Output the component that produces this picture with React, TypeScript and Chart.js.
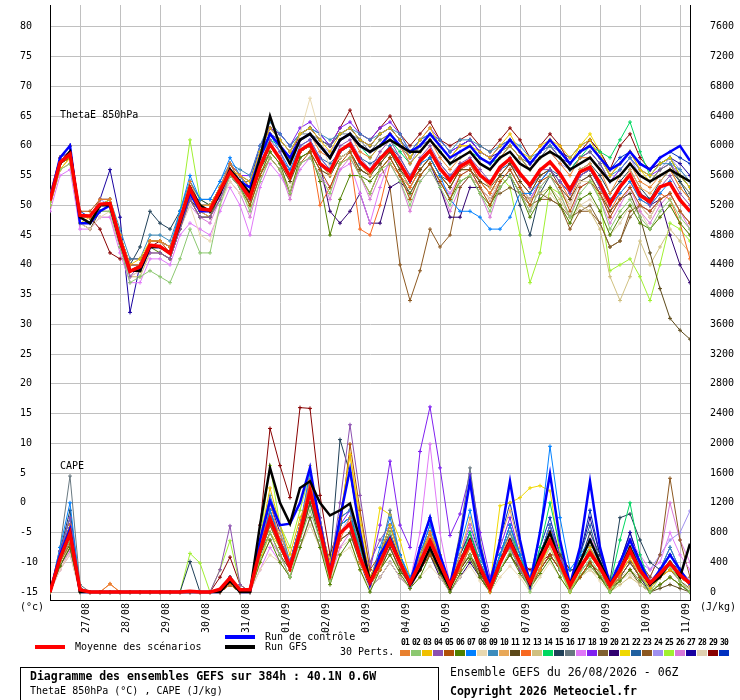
import React, { useEffect, useRef } from 'react'
import { Chart, registerables } from 'chart.js'

Chart.register(...registerables)

const FONT = "'DejaVu Sans Mono', monospace"

// 6-hourly steps from 26/08 06Z to 11/09 06Z (384h)
const hours = Array.from({ length: 65 }, (_, i) => i * 6)
const dayLabels = ['27/08', '28/08', '29/08', '30/08', '31/08', '01/09', '02/09', '03/09', '04/09', '05/09', '06/09', '07/09', '08/09', '09/09', '10/09', '11/09']
const thetaTicks = [-15, -10, -5, 0, 5, 10, 15, 20, 25, 30, 35, 40, 45, 50, 55, 60, 65, 70, 75, 80]
const capeTicks = [0, 400, 800, 1200, 1600, 2000, 2400, 2800, 3200, 3600, 4000, 4400, 4800, 5200, 5600, 6000, 6400, 6800, 7200, 7600]

const pertColors = [
  '#e8802f', '#8cc870', '#f0c000', '#8c50b0', '#b05008', '#508000', '#0080ff', '#e8d8b0', '#3c8cbc', '#e8a858',
  '#5c4818', '#f86820', '#d0c080', '#00d860', '#204058', '#687880', '#e078f8', '#8020f0', '#806030', '#300070',
  '#f0d800', '#2060a0', '#8c5820', '#a090f0', '#a0f030', '#d878d8', '#1800a0', '#e0d0b0', '#880000', '#0030c0',
]
const pertNames = pertColors.map((_, i) => String(i + 1).padStart(2, '0'))

// ThetaE 850hPa (°C)
const thetaMean = [50.8, 57.2, 58.6, 48.3, 48.2, 50.2, 50.3, 44.2, 38.9, 39.7, 43.3, 43.1, 41.9, 47.5, 52.8, 49.4, 49.2, 52.5, 55.6, 53.6, 51.3, 56.5, 60.3, 57.8, 54.8, 59.2, 60.3, 57.0, 55.7, 59.2, 60.3, 57.3, 55.7, 57.8, 59.5, 57.0, 54.2, 57.5, 59.2, 56.2, 54.2, 56.5, 57.5, 55.1, 53.7, 56.4, 57.8, 55.3, 53.4, 55.9, 57.3, 55.3, 52.6, 55.6, 56.4, 53.7, 50.3, 53.1, 55.1, 51.7, 50.6, 53.1, 53.7, 50.9, 49.0]
const thetaCtrl = [51, 58, 60, 47, 47, 49, 50, 44, 39, 39, 43, 43, 42, 47, 52, 49, 49, 52, 56, 54, 53, 58, 62, 60, 58, 61, 62, 60, 58, 61, 62, 60, 59, 60, 62, 60, 59, 60, 62, 60, 58, 59, 60, 58, 57, 59, 61, 59, 57, 59, 61, 59, 57, 59, 60, 58, 56, 57, 59, 57, 56, 58, 59, 60, 57.5]
const thetaGfs = [51, 57, 59, 48, 47, 50, 50, 44, 39, 39, 43, 43, 42, 47, 53, 50, 49, 52, 56, 54, 52, 58, 65, 60, 57, 61, 62, 60, 58, 61, 62, 60, 59, 60, 61, 60, 59, 59, 61, 59, 57, 58, 59, 57, 56, 58, 59, 57, 56, 58, 59, 58, 56, 57, 58, 56, 54, 55, 57, 55, 54, 55, 56, 55, 54]
const thetaPerts = [
  [51, 58, 60, 48, 48, 51, 51, 45, 40, 40, 44, 44, 43, 48, 54, 50, 50, 53, 57, 55, 53, 58, 62, 60, 57, 61, 62, 59, 58, 61, 62, 59, 58, 60, 62, 60, 57, 59, 61, 58, 56, 58, 59, 57, 56, 58, 60, 58, 56, 58, 59, 57, 55, 58, 58, 56, 52, 55, 57, 54, 53, 55, 56, 53, 51],
  [50, 56, 57, 47, 47, 49, 49, 43, 37, 38, 39, 38, 37, 41, 46, 42, 42, 50, 55, 53, 49, 54, 58, 56, 52, 57, 58, 55, 52, 57, 58, 55, 52, 56, 57, 54, 50, 54, 56, 53, 50, 54, 55, 52, 49, 53, 55, 52, 49, 53, 55, 52, 48, 52, 54, 51, 46, 49, 51, 48, 46, 49, 51, 48, 46],
  [50, 56, 58, 47, 48, 50, 51, 45, 40, 41, 44, 44, 43, 47, 52, 50, 50, 53, 56, 55, 54, 59, 63, 61, 59, 62, 63, 61, 59, 62, 63, 61, 60, 62, 63, 61, 58, 61, 63, 60, 58, 60, 60, 59, 58, 60, 62, 59, 58, 60, 61, 60, 58, 60, 61, 58, 55, 57, 59, 56, 55, 57, 58, 55, 53],
  [52, 58, 59, 48, 48, 50, 50, 43, 38, 40, 42, 42, 41, 46, 51, 48, 48, 51, 55, 53, 51, 57, 61, 59, 55, 60, 61, 58, 56, 60, 61, 58, 56, 59, 61, 58, 55, 58, 60, 57, 55, 57, 58, 56, 54, 56, 58, 55, 53, 56, 56, 54, 52, 55, 56, 53, 50, 53, 55, 52, 50, 53, 55, 52, 50],
  [51, 57, 58, 49, 49, 51, 51, 45, 40, 40, 44, 44, 42, 48, 53, 50, 49, 52, 57, 54, 50, 55, 58, 56, 52, 57, 59, 56, 53, 57, 59, 55, 52, 56, 58, 55, 51, 55, 57, 54, 51, 55, 56, 53, 50, 54, 56, 53, 50, 54, 55, 53, 49, 53, 54, 52, 48, 51, 53, 50, 49, 51, 52, 49, 47],
  [50, 57, 58, 48, 48, 50, 50, 44, 39, 39, 43, 42, 41, 46, 51, 48, 48, 52, 55, 53, 50, 55, 59, 57, 52, 58, 59, 54, 45, 51, 55, 55, 54, 56, 58, 55, 52, 55, 57, 54, 51, 54, 55, 52, 50, 53, 55, 52, 48, 51, 53, 50, 47, 51, 52, 49, 45, 48, 50, 47, 46, 48, 50, 47, 45],
  [51, 58, 60, 48, 48, 50, 51, 45, 40, 40, 44, 44, 43, 49, 55, 51, 51, 54, 58, 55, 52, 58, 62, 59, 56, 60, 61, 58, 56, 59, 60, 57, 56, 58, 60, 57, 54, 57, 58, 55, 51, 49, 49, 48, 46, 46, 48, 52, 52, 54, 56, 54, 52, 55, 56, 53, 50, 52, 54, 51, 50, 52, 54, 51, 49],
  [50, 56, 57, 47, 46, 48, 49, 43, 38, 39, 42, 42, 41, 46, 50, 45, 44, 50, 54, 52, 50, 55, 59, 57, 55, 62, 68, 62, 56, 58, 59, 55, 52, 56, 58, 55, 51, 55, 57, 54, 51, 55, 55, 53, 51, 54, 56, 53, 50, 54, 55, 53, 50, 54, 54, 52, 48, 51, 53, 50, 48, 51, 52, 49, 47],
  [51, 58, 59, 48, 48, 51, 51, 46, 41, 41, 45, 45, 44, 49, 54, 51, 51, 54, 57, 56, 55, 60, 64, 62, 60, 62, 63, 62, 61, 62, 63, 62, 61, 62, 63, 62, 59, 61, 62, 61, 59, 61, 61, 60, 59, 60, 61, 60, 58, 59, 60, 59, 57, 59, 60, 58, 55, 56, 58, 56, 55, 57, 57, 56, 54],
  [50, 57, 58, 48, 48, 50, 50, 44, 39, 39, 43, 43, 42, 47, 52, 49, 48, 52, 55, 53, 51, 56, 60, 58, 55, 59, 60, 57, 55, 59, 60, 57, 55, 58, 60, 57, 54, 57, 59, 56, 54, 57, 57, 55, 53, 56, 58, 55, 53, 56, 57, 55, 52, 56, 57, 54, 50, 53, 56, 53, 52, 54, 56, 53, 51],
  [51, 57, 58, 47, 46, 49, 50, 44, 39, 39, 43, 43, 42, 47, 51, 49, 48, 52, 55, 53, 51, 56, 59, 57, 54, 58, 59, 56, 55, 58, 59, 56, 55, 57, 59, 56, 54, 56, 58, 55, 53, 56, 56, 54, 53, 55, 57, 54, 52, 55, 56, 53, 51, 54, 55, 52, 49, 51, 52, 48, 42, 36, 31, 29, 27.5],
  [51, 58, 59, 48, 48, 50, 50, 44, 39, 40, 43, 43, 42, 47, 52, 49, 49, 52, 56, 54, 51, 56, 60, 58, 55, 59, 60, 50, 53, 57, 58, 46, 45, 50, 57, 55, 53, 56, 58, 55, 53, 56, 57, 54, 52, 55, 57, 54, 52, 55, 56, 54, 51, 55, 56, 53, 49, 52, 54, 51, 50, 52, 51, 47, 41],
  [50, 56, 58, 47, 47, 49, 49, 43, 38, 38, 42, 42, 41, 46, 51, 48, 48, 51, 55, 53, 50, 55, 59, 57, 54, 58, 59, 56, 55, 58, 59, 56, 55, 57, 59, 56, 53, 56, 58, 55, 53, 56, 56, 54, 52, 54, 56, 53, 51, 52, 53, 51, 48, 50, 49, 46, 38, 34, 38, 44, 40, 43, 46, 44, 42],
  [51, 57, 59, 48, 48, 50, 50, 44, 39, 39, 43, 43, 42, 48, 53, 50, 50, 53, 56, 54, 53, 58, 61, 60, 58, 61, 62, 60, 58, 61, 62, 60, 58, 60, 61, 59, 57, 59, 61, 59, 57, 58, 59, 58, 57, 58, 60, 58, 56, 58, 59, 58, 56, 58, 60, 59, 58, 61, 64, 59, 55, 57, 58, 55, 53],
  [51, 57, 59, 48, 48, 50, 50, 44, 40, 43, 49, 47, 46, 49, 54, 51, 50, 53, 56, 54, 51, 56, 60, 58, 55, 59, 60, 57, 55, 58, 59, 56, 55, 57, 59, 56, 53, 56, 58, 55, 54, 57, 57, 54, 52, 55, 55, 50, 45, 52, 55, 55, 53, 56, 57, 55, 52, 54, 56, 53, 51, 54, 56, 54, 51],
  [52, 58, 60, 48, 48, 50, 50, 44, 39, 39, 43, 43, 42, 47, 52, 49, 49, 52, 56, 54, 54, 59, 62, 61, 59, 62, 62, 61, 60, 62, 62, 61, 59, 61, 62, 60, 58, 60, 61, 59, 57, 59, 60, 58, 57, 59, 60, 58, 57, 58, 60, 58, 56, 58, 59, 57, 54, 55, 57, 55, 54, 56, 57, 54, 52],
  [49, 55, 56, 46, 46, 48, 48, 42, 37, 37, 41, 41, 40, 45, 47, 46, 45, 49, 53, 50, 45, 53, 57, 55, 52, 56, 58, 55, 53, 56, 57, 52, 47, 53, 58, 55, 52, 55, 57, 54, 52, 55, 56, 53, 51, 54, 56, 53, 51, 54, 55, 53, 50, 54, 55, 52, 48, 51, 53, 50, 49, 51, 52, 49, 47],
  [51, 58, 60, 48, 48, 51, 51, 45, 40, 40, 44, 44, 43, 48, 53, 50, 50, 53, 57, 55, 55, 60, 63, 62, 60, 63, 64, 62, 60, 63, 64, 62, 61, 63, 64, 62, 59, 61, 63, 61, 59, 60, 61, 59, 58, 60, 61, 59, 57, 59, 60, 58, 56, 58, 59, 57, 54, 56, 58, 56, 55, 56, 57, 55, 53],
  [50, 57, 58, 48, 48, 50, 50, 44, 39, 39, 43, 43, 42, 47, 52, 49, 49, 52, 56, 54, 51, 56, 60, 58, 55, 59, 60, 57, 56, 59, 60, 57, 55, 58, 60, 57, 54, 57, 59, 56, 54, 56, 56, 53, 51, 52, 53, 52, 51, 52, 51, 50, 48, 49, 50, 47, 43, 44, 48, 50, 49, 51, 52, 49, 47],
  [51, 57, 59, 48, 48, 50, 50, 44, 39, 39, 43, 43, 42, 47, 52, 49, 49, 52, 56, 54, 51, 56, 60, 58, 55, 59, 60, 57, 49, 47, 49, 52, 47, 47, 53, 54, 52, 55, 57, 53, 48, 48, 53, 53, 51, 54, 56, 53, 51, 54, 56, 54, 52, 55, 56, 53, 50, 53, 55, 52, 50, 51, 45, 40, 37],
  [50, 56, 58, 48, 48, 50, 50, 44, 39, 40, 44, 44, 43, 47, 53, 50, 49, 53, 57, 55, 53, 58, 62, 60, 58, 61, 62, 60, 58, 61, 62, 60, 59, 61, 62, 60, 58, 60, 62, 60, 58, 60, 60, 58, 57, 59, 60, 58, 57, 59, 61, 59, 57, 60, 62, 59, 55, 57, 59, 56, 54, 56, 57, 54, 52],
  [51, 57, 59, 47, 47, 49, 50, 44, 39, 39, 42, 42, 41, 46, 51, 48, 48, 51, 55, 53, 51, 56, 60, 58, 56, 59, 60, 58, 57, 59, 60, 58, 57, 58, 60, 58, 55, 57, 59, 57, 55, 56, 57, 55, 54, 56, 57, 55, 53, 55, 56, 55, 53, 55, 56, 54, 51, 53, 55, 52, 51, 53, 54, 51, 49],
  [50, 57, 58, 48, 48, 50, 50, 44, 39, 39, 43, 43, 42, 47, 52, 49, 49, 52, 56, 54, 51, 56, 60, 58, 55, 59, 60, 57, 55, 58, 59, 56, 55, 57, 53, 40, 34, 39, 46, 43, 45, 53, 55, 53, 51, 53, 55, 52, 50, 51, 51, 50, 46, 49, 49, 47, 43, 44, 49, 50, 48, 51, 52, 49, 47],
  [51, 58, 59, 48, 48, 51, 50, 44, 39, 39, 42, 42, 41, 47, 52, 49, 49, 52, 56, 54, 53, 59, 62, 61, 59, 61, 62, 60, 59, 61, 62, 60, 59, 60, 62, 60, 57, 60, 61, 59, 57, 59, 60, 58, 57, 58, 60, 58, 56, 58, 59, 57, 56, 58, 59, 57, 54, 56, 58, 55, 54, 56, 58, 56, 54],
  [51, 57, 58, 48, 48, 50, 50, 44, 39, 40, 43, 43, 42, 49, 61, 51, 50, 53, 56, 54, 51, 56, 60, 58, 55, 59, 60, 57, 55, 58, 59, 56, 55, 57, 59, 56, 53, 56, 58, 55, 53, 56, 56, 54, 52, 55, 53, 45, 37, 42, 53, 52, 50, 54, 55, 51, 39, 40, 41, 38, 34, 40, 47, 46, 44],
  [50, 56, 57, 47, 47, 49, 49, 43, 38, 39, 42, 42, 41, 46, 50, 48, 47, 51, 54, 52, 48, 54, 58, 56, 51, 57, 58, 55, 51, 56, 58, 55, 51, 55, 57, 54, 49, 54, 56, 53, 49, 53, 55, 52, 48, 53, 55, 52, 49, 53, 55, 52, 48, 53, 54, 51, 47, 50, 53, 49, 47, 50, 52, 49, 46],
  [51, 58, 60, 48, 48, 51, 56, 48, 32, 40, 44, 44, 43, 47, 52, 49, 49, 52, 56, 54, 54, 59, 63, 61, 59, 62, 63, 61, 60, 62, 63, 61, 60, 62, 63, 61, 58, 60, 62, 60, 58, 60, 61, 59, 58, 59, 61, 59, 57, 59, 60, 58, 57, 59, 60, 58, 55, 57, 59, 57, 56, 57, 58, 57, 55],
  [50, 56, 57, 47, 46, 48, 48, 43, 38, 38, 42, 42, 41, 46, 51, 48, 48, 51, 55, 53, 49, 54, 58, 56, 53, 57, 58, 55, 52, 57, 58, 55, 52, 56, 58, 55, 51, 55, 57, 54, 52, 54, 55, 53, 50, 53, 55, 52, 49, 51, 52, 50, 47, 50, 51, 49, 45, 47, 50, 49, 46, 48, 50, 47, 45],
  [51, 58, 59, 48, 48, 46, 42, 41, 41, 41, 43, 44, 43, 48, 53, 50, 50, 53, 57, 55, 53, 58, 62, 60, 58, 62, 63, 61, 60, 63, 66, 62, 61, 63, 65, 62, 60, 62, 64, 61, 60, 61, 62, 60, 59, 61, 63, 61, 58, 60, 62, 60, 57, 59, 61, 59, 56, 60, 62, 58, 56, 57, 58, 55, 53],
  [51, 58, 60, 49, 48, 50, 51, 45, 40, 40, 44, 44, 43, 48, 53, 50, 50, 53, 57, 55, 54, 60, 63, 62, 60, 62, 63, 62, 60, 62, 63, 61, 60, 62, 63, 61, 59, 61, 62, 61, 59, 60, 61, 59, 58, 60, 61, 59, 57, 59, 61, 59, 58, 60, 61, 59, 56, 58, 59, 57, 56, 58, 59, 58, 57],
]

// CAPE (J/kg)
const capeMean = [0, 450, 790, 30, 0, 0, 0, 0, 0, 0, 0, 0, 0, 0, 10, 0, 0, 40, 190, 30, 30, 560, 990, 650, 330, 790, 1360, 830, 250, 790, 920, 470, 130, 390, 690, 390, 120, 390, 690, 390, 90, 390, 670, 330, 50, 390, 670, 390, 130, 430, 690, 390, 90, 330, 530, 330, 90, 290, 560, 290, 120, 250, 390, 230, 120]
const capeCtrl = [0, 500, 850, 0, 0, 0, 0, 0, 0, 0, 0, 0, 0, 0, 0, 0, 0, 0, 200, 0, 0, 700, 1230, 900, 920, 1200, 1670, 900, 270, 1000, 1650, 800, 100, 500, 730, 400, 100, 600, 1000, 500, 100, 700, 1490, 600, 100, 700, 1490, 700, 100, 800, 1590, 700, 100, 600, 1490, 600, 100, 400, 700, 400, 100, 300, 500, 300, 100]
const capeGfs = [0, 450, 800, 0, 0, 0, 0, 0, 0, 0, 0, 0, 0, 0, 0, 0, 0, 0, 150, 0, 0, 900, 1670, 1200, 920, 1400, 1490, 1200, 1030, 1100, 1190, 700, 150, 400, 700, 400, 100, 300, 600, 300, 50, 400, 700, 300, 50, 400, 700, 400, 100, 500, 800, 400, 100, 400, 700, 400, 100, 300, 600, 300, 100, 200, 400, 200, 650]
const capePerts = [
  [0, 500, 900, 50, 0, 0, 110, 0, 0, 0, 0, 0, 0, 0, 0, 0, 0, 0, 100, 0, 0, 600, 1200, 700, 300, 900, 1500, 800, 200, 700, 1000, 400, 100, 300, 700, 400, 100, 400, 800, 400, 50, 300, 600, 300, 0, 400, 700, 400, 100, 300, 800, 400, 50, 300, 500, 300, 50, 200, 600, 300, 100, 200, 400, 200, 100],
  [0, 400, 700, 0, 0, 0, 0, 0, 0, 0, 0, 0, 0, 0, 0, 0, 0, 0, 150, 0, 0, 450, 800, 500, 200, 700, 1100, 700, 150, 800, 900, 500, 100, 450, 800, 350, 80, 350, 600, 300, 50, 350, 500, 300, 0, 300, 550, 350, 0, 400, 700, 300, 0, 250, 450, 250, 0, 300, 500, 250, 0, 200, 350, 150, 0],
  [0, 450, 750, 0, 0, 0, 0, 0, 0, 0, 0, 0, 0, 0, 0, 0, 0, 0, 200, 0, 0, 700, 1400, 900, 500, 1000, 1300, 900, 400, 1000, 1850, 900, 200, 500, 900, 450, 150, 500, 800, 500, 100, 400, 600, 300, 0, 400, 650, 400, 100, 300, 700, 350, 0, 300, 600, 350, 50, 250, 450, 250, 50, 200, 300, 200, 100],
  [0, 550, 1000, 50, 0, 0, 0, 0, 0, 0, 0, 0, 0, 0, 0, 0, 0, 300, 890, 100, 0, 700, 1000, 700, 400, 900, 1500, 1000, 300, 1200, 2250, 1300, 400, 700, 900, 450, 150, 450, 800, 450, 100, 400, 700, 350, 100, 400, 600, 300, 50, 400, 700, 300, 50, 300, 600, 350, 100, 350, 700, 400, 150, 300, 500, 300, 150],
  [0, 400, 650, 0, 0, 0, 0, 0, 0, 0, 0, 0, 0, 0, 0, 0, 0, 0, 100, 0, 0, 500, 900, 600, 300, 800, 1300, 800, 200, 800, 1990, 1100, 300, 500, 800, 400, 100, 300, 500, 300, 50, 300, 600, 300, 50, 400, 600, 300, 50, 300, 500, 300, 50, 200, 400, 250, 50, 250, 450, 200, 100, 200, 300, 200, 100],
  [0, 350, 600, 0, 0, 0, 0, 0, 0, 0, 0, 0, 0, 0, 0, 0, 0, 0, 100, 0, 0, 400, 700, 400, 200, 600, 1000, 600, 100, 500, 700, 300, 0, 300, 500, 250, 50, 200, 500, 250, 0, 250, 450, 200, 0, 300, 500, 250, 50, 250, 450, 200, 0, 200, 350, 200, 0, 150, 300, 150, 0, 100, 200, 100, 0],
  [0, 600, 1200, 50, 0, 0, 0, 0, 0, 0, 0, 0, 0, 0, 0, 0, 0, 0, 200, 0, 0, 600, 1100, 700, 400, 900, 1600, 900, 300, 900, 1000, 500, 150, 600, 1000, 500, 200, 500, 900, 400, 100, 600, 1100, 500, 100, 500, 900, 500, 200, 800, 1960, 1000, 300, 500, 700, 400, 100, 300, 600, 300, 100, 300, 500, 300, 100],
  [0, 300, 500, 0, 0, 0, 0, 0, 0, 0, 0, 0, 0, 0, 0, 0, 0, 0, 100, 0, 0, 300, 500, 400, 200, 600, 900, 600, 150, 500, 600, 300, 50, 200, 400, 200, 50, 200, 350, 200, 0, 200, 350, 150, 0, 200, 350, 200, 0, 200, 400, 200, 0, 200, 300, 150, 0, 150, 250, 100, 0, 100, 200, 100, 0],
  [0, 500, 1000, 50, 0, 0, 0, 0, 0, 0, 0, 0, 0, 0, 0, 0, 0, 0, 150, 0, 0, 700, 1300, 900, 400, 900, 1500, 1000, 300, 1000, 1100, 600, 150, 500, 900, 500, 150, 600, 1000, 500, 100, 400, 700, 400, 50, 500, 800, 400, 100, 500, 900, 400, 100, 400, 700, 350, 100, 300, 700, 350, 100, 300, 600, 300, 100],
  [0, 450, 850, 0, 0, 0, 0, 0, 0, 0, 0, 0, 0, 0, 0, 0, 0, 0, 150, 0, 0, 600, 1000, 800, 400, 800, 1400, 900, 200, 800, 900, 400, 100, 400, 700, 400, 100, 400, 700, 400, 100, 500, 1000, 500, 100, 700, 1100, 600, 150, 400, 800, 400, 100, 300, 500, 300, 100, 300, 600, 300, 100, 300, 400, 200, 100],
  [0, 350, 600, 0, 0, 0, 0, 0, 0, 0, 0, 0, 0, 0, 0, 0, 0, 0, 100, 0, 0, 500, 800, 500, 300, 700, 1200, 700, 200, 700, 800, 400, 100, 300, 600, 300, 100, 300, 550, 300, 50, 300, 500, 250, 0, 300, 500, 300, 100, 400, 700, 500, 300, 300, 400, 200, 50, 150, 300, 100, 0, 50, 100, 50, 0],
  [0, 500, 900, 50, 0, 0, 110, 0, 0, 0, 0, 0, 0, 0, 0, 0, 0, 0, 150, 0, 0, 600, 1000, 700, 300, 900, 1400, 800, 200, 800, 900, 400, 100, 400, 700, 400, 100, 400, 800, 400, 100, 400, 700, 300, 50, 400, 800, 400, 100, 400, 700, 400, 100, 300, 500, 300, 50, 300, 500, 300, 100, 300, 400, 200, 100],
  [0, 350, 650, 0, 0, 0, 0, 0, 0, 0, 0, 0, 0, 0, 0, 0, 0, 0, 100, 0, 0, 500, 900, 600, 300, 700, 1700, 800, 200, 700, 800, 400, 100, 300, 600, 300, 100, 400, 700, 400, 50, 300, 600, 300, 50, 300, 500, 300, 100, 300, 600, 300, 50, 200, 300, 200, 0, 100, 200, 100, 0, 100, 200, 100, 50],
  [0, 500, 800, 0, 0, 0, 0, 0, 0, 0, 0, 0, 0, 0, 0, 0, 0, 0, 150, 0, 0, 500, 900, 600, 300, 800, 1200, 800, 250, 900, 1000, 600, 150, 400, 800, 400, 100, 400, 700, 400, 100, 400, 800, 400, 50, 500, 800, 500, 100, 600, 1200, 600, 100, 400, 600, 300, 100, 700, 1200, 500, 100, 200, 400, 200, 100],
  [0, 550, 1100, 50, 0, 0, 0, 0, 0, 0, 0, 0, 0, 0, 410, 0, 0, 0, 200, 0, 0, 600, 1000, 700, 400, 900, 1300, 900, 400, 2050, 1600, 800, 200, 500, 900, 500, 150, 500, 800, 400, 100, 500, 800, 400, 100, 400, 700, 400, 100, 500, 800, 400, 100, 400, 800, 500, 150, 1000, 1050, 700, 400, 300, 400, 300, 100],
  [0, 600, 1560, 100, 0, 0, 0, 0, 0, 0, 0, 0, 0, 0, 0, 0, 0, 0, 200, 0, 0, 600, 1100, 700, 400, 900, 1500, 900, 300, 900, 1000, 500, 100, 500, 1100, 500, 100, 500, 900, 500, 100, 800, 1670, 700, 100, 500, 900, 400, 100, 400, 800, 400, 100, 300, 600, 300, 100, 300, 600, 300, 100, 200, 400, 200, 100],
  [0, 300, 500, 0, 0, 0, 0, 0, 0, 0, 0, 0, 0, 0, 0, 0, 0, 0, 200, 0, 0, 300, 600, 400, 200, 600, 1000, 600, 200, 700, 800, 500, 100, 500, 900, 500, 150, 800, 1990, 800, 100, 500, 900, 400, 100, 500, 700, 400, 100, 400, 800, 400, 50, 400, 700, 400, 100, 400, 700, 500, 300, 400, 800, 500, 300],
  [0, 450, 800, 0, 0, 0, 0, 0, 0, 0, 0, 0, 0, 0, 0, 0, 0, 0, 200, 0, 0, 500, 900, 600, 300, 800, 1200, 800, 300, 900, 1100, 700, 300, 900, 1760, 900, 600, 1890, 2490, 1670, 760, 1050, 1590, 800, 200, 600, 1000, 500, 100, 500, 900, 500, 100, 400, 700, 400, 100, 300, 500, 300, 100, 200, 400, 200, 100],
  [0, 400, 700, 0, 0, 0, 0, 0, 0, 0, 0, 0, 0, 0, 0, 0, 0, 0, 100, 0, 0, 500, 900, 600, 300, 700, 1200, 800, 200, 700, 800, 400, 100, 300, 600, 300, 100, 300, 600, 300, 50, 300, 500, 200, 0, 300, 500, 300, 50, 300, 500, 300, 50, 200, 400, 200, 50, 200, 400, 200, 50, 200, 300, 150, 50],
  [0, 400, 700, 0, 0, 0, 0, 0, 0, 0, 0, 0, 0, 0, 0, 0, 0, 0, 100, 0, 0, 500, 1000, 700, 400, 800, 1300, 800, 250, 800, 900, 400, 50, 200, 400, 200, 50, 300, 500, 200, 0, 200, 400, 200, 0, 300, 500, 300, 50, 300, 500, 300, 50, 300, 600, 300, 50, 200, 400, 200, 0, 100, 200, 100, 0],
  [0, 450, 800, 50, 0, 0, 0, 0, 0, 0, 0, 0, 0, 0, 0, 0, 0, 0, 150, 0, 0, 400, 800, 600, 300, 700, 1200, 800, 300, 1000, 1850, 1000, 300, 1130, 1040, 700, 200, 400, 800, 400, 100, 400, 700, 400, 100, 1160, 1200, 1270, 1400, 1430, 1360, 500, 100, 300, 600, 300, 50, 300, 500, 300, 100, 200, 400, 200, 100],
  [0, 500, 900, 0, 0, 0, 0, 0, 0, 0, 0, 0, 0, 0, 0, 0, 0, 0, 150, 0, 0, 600, 1100, 700, 300, 900, 1400, 800, 200, 800, 900, 400, 100, 400, 700, 400, 100, 500, 800, 400, 100, 400, 700, 300, 50, 400, 700, 400, 100, 500, 900, 400, 100, 500, 900, 400, 100, 400, 700, 300, 100, 300, 500, 300, 100],
  [0, 400, 700, 0, 0, 0, 0, 0, 0, 0, 0, 0, 0, 0, 0, 0, 0, 0, 100, 0, 0, 500, 900, 700, 300, 800, 1300, 800, 200, 800, 900, 400, 100, 300, 600, 300, 100, 300, 500, 300, 50, 300, 500, 300, 50, 300, 500, 300, 100, 300, 500, 300, 50, 200, 400, 200, 50, 300, 600, 400, 200, 500, 1530, 700, 200],
  [0, 350, 600, 0, 0, 0, 0, 0, 0, 0, 0, 0, 0, 0, 0, 0, 0, 0, 200, 0, 0, 500, 900, 600, 300, 800, 1300, 800, 300, 800, 1000, 500, 200, 400, 700, 400, 100, 500, 900, 500, 100, 500, 800, 400, 100, 400, 700, 400, 100, 400, 700, 400, 100, 400, 600, 400, 200, 400, 600, 400, 300, 500, 700, 800, 1090],
  [0, 450, 800, 0, 0, 0, 0, 0, 0, 0, 0, 0, 0, 0, 520, 390, 0, 300, 690, 100, 0, 700, 1700, 900, 600, 1100, 1600, 900, 300, 900, 1000, 500, 100, 400, 700, 400, 100, 500, 800, 400, 100, 400, 700, 300, 50, 400, 600, 300, 100, 400, 600, 300, 0, 200, 400, 200, 0, 200, 400, 200, 0, 100, 200, 100, 0],
  [0, 350, 550, 0, 0, 0, 0, 0, 0, 0, 0, 0, 0, 0, 0, 0, 0, 0, 100, 0, 0, 400, 700, 500, 200, 600, 1000, 600, 200, 600, 800, 400, 100, 400, 600, 300, 100, 400, 700, 400, 100, 400, 700, 300, 50, 400, 700, 300, 100, 400, 800, 400, 100, 400, 800, 400, 100, 400, 700, 400, 200, 500, 1200, 700, 400],
  [0, 500, 900, 50, 0, 0, 0, 0, 0, 0, 0, 0, 0, 0, 0, 0, 0, 0, 150, 0, 0, 700, 1200, 800, 400, 900, 1500, 1000, 300, 900, 1000, 600, 150, 500, 800, 400, 100, 400, 800, 400, 100, 500, 800, 400, 100, 500, 900, 500, 100, 500, 900, 500, 100, 500, 1000, 500, 100, 400, 800, 400, 100, 300, 500, 300, 100],
  [0, 300, 550, 0, 0, 0, 0, 0, 0, 0, 0, 0, 0, 0, 0, 0, 0, 0, 100, 0, 0, 400, 700, 500, 200, 600, 900, 600, 150, 600, 700, 300, 50, 300, 500, 300, 50, 300, 500, 200, 50, 300, 500, 200, 0, 300, 500, 300, 50, 300, 500, 300, 50, 200, 400, 200, 50, 200, 300, 200, 50, 100, 200, 100, 50],
  [0, 500, 900, 50, 0, 0, 0, 0, 0, 0, 0, 0, 0, 0, 0, 0, 0, 200, 470, 100, 0, 900, 2200, 1700, 1270, 2480, 2470, 1300, 500, 900, 1000, 500, 100, 500, 800, 400, 100, 500, 800, 400, 100, 400, 600, 300, 50, 500, 700, 400, 300, 400, 500, 500, 300, 300, 500, 300, 100, 300, 500, 300, 100, 300, 400, 200, 100],
  [0, 550, 1000, 50, 0, 0, 0, 0, 0, 0, 0, 0, 0, 0, 0, 0, 0, 0, 200, 0, 0, 600, 1100, 700, 400, 900, 1500, 900, 300, 1000, 1100, 500, 100, 500, 900, 500, 100, 600, 1000, 500, 100, 500, 900, 500, 100, 700, 1200, 600, 100, 600, 1000, 500, 100, 500, 1100, 500, 100, 400, 800, 400, 100, 300, 600, 300, 100],
]

const pts = (vals: number[]) => vals.map((v, i) => ({ x: hours[i], y: v }))

function Txt({ x, y, size = 10, bold = false, children }: { x: number; y: number; size?: number; bold?: boolean; children: React.ReactNode }) {
  return (
    <div
      style={{
        position: 'absolute', left: x, top: y, transform: 'translateY(-50%)',
        fontFamily: FONT, fontSize: size, fontWeight: bold ? 'bold' : 'normal',
        lineHeight: 1, whiteSpace: 'nowrap', color: '#000',
      }}
    >
      {children}
    </div>
  )
}

// fixed axis sizes, no extra label padding around the plot area
const fixSize = (w: number | null, h: number | null) => (s: any) => {
  if (w !== null) s.width = w
  if (h !== null) s.height = h
  s.paddingTop = 0
  s.paddingBottom = 0
  s.paddingLeft = 0
  s.paddingRight = 0
}

export default function App() {
  const canvasRef = useRef<HTMLCanvasElement>(null)

  useEffect(() => {
    if (!canvasRef.current) return

    const member = (vals: number[], color: string, axis: string) => ({
      data: pts(vals),
      yAxisID: axis,
      borderColor: color,
      backgroundColor: color,
      borderWidth: 1,
      pointStyle: 'cross' as const,
      pointRadius: 2,
      pointBorderWidth: 1,
      order: 3,
    })
    const thick = (vals: number[], color: string, axis: string, width: number, order: number) => ({
      data: pts(vals),
      yAxisID: axis,
      borderColor: color,
      backgroundColor: color,
      borderWidth: width,
      pointRadius: 0,
      order,
    })

    const datasets: any[] = [
      thick(thetaMean, '#ff0000', 'y', 3.5, 0),
      thick(capeMean, '#ff0000', 'y2', 3.5, 0),
      thick(thetaGfs, '#000000', 'y', 2.5, 1),
      thick(capeGfs, '#000000', 'y2', 2.5, 1),
      thick(thetaCtrl, '#0000ff', 'y', 2.5, 2),
      thick(capeCtrl, '#0000ff', 'y2', 2.5, 2),
      ...thetaPerts.map((row, i) => member(row, pertColors[i], 'y')),
      ...capePerts.map((row, i) => member(row, pertColors[i], 'y2')),
    ]

    const tickFont = { family: FONT, size: 10 }

    const chart = new Chart(canvasRef.current, {
      type: 'line',
      data: { datasets },
      options: {
        responsive: false,
        animation: false,
        layout: { padding: { left: 20, right: 0, top: 0, bottom: 0 } },
        plugins: { legend: { display: false }, tooltip: { enabled: false } },
        elements: { line: { tension: 0 } },
        scales: {
          x: {
            type: 'linear',
            min: 0,
            max: 384,
            afterBuildTicks: (s: any) => {
              s.ticks = dayLabels.map((_, k) => ({ value: 18 + 24 * k }))
            },
            afterFit: fixSize(null, 100),
            ticks: {
              autoSkip: false,
              minRotation: 90,
              maxRotation: 90,
              labelOffset: 6,
              padding: 3,
              color: '#000',
              font: tickFont,
              callback: (v: any) => dayLabels[Math.round((Number(v) - 18) / 24)] ?? '',
            },
            grid: { color: '#c0c0c0', drawTicks: false },
            border: { display: true, color: '#000', width: 1 },
          },
          y: {
            position: 'left',
            min: -15 - 8 / 6,
            max: 80 + 22 / 6,
            afterBuildTicks: (s: any) => {
              s.ticks = thetaTicks.map(v => ({ value: v }))
            },
            afterFit: fixSize(30, null),
            ticks: { crossAlign: 'far', color: '#000', font: tickFont, padding: 0, callback: (v: any) => String(v) },
            grid: { color: '#c0c0c0', drawTicks: false },
            border: { display: true, color: '#000', width: 1 },
          },
          y2: {
            position: 'right',
            min: (-8 / 6) * 80,
            max: 7600 + (22 / 6) * 80,
            afterBuildTicks: (s: any) => {
              s.ticks = capeTicks.map(v => ({ value: v }))
            },
            afterFit: fixSize(50, null),
            ticks: { color: '#000', font: tickFont, padding: 20, callback: (v: any) => String(v) },
            grid: { display: false, drawTicks: false },
            border: { display: true, color: '#000', width: 1 },
          },
        },
      },
    })

    return () => {
      chart.destroy()
    }
  }, [])

  return (
    <div style={{ position: 'absolute', left: 0, top: 0, width: 740, height: 700, background: '#fff', overflow: 'hidden' }}>
      <canvas ref={canvasRef} width={740} height={700} style={{ display: 'block', width: 740, height: 700 }} />

      <Txt x={60} y={115}>ThetaE 850hPa</Txt>
      <Txt x={60} y={466}>CAPE</Txt>
      <Txt x={20} y={607}>(°c)</Txt>
      <Txt x={700} y={607}>(J/kg)</Txt>

      <div style={{ position: 'absolute', left: 35, top: 645, width: 30, height: 4, background: '#ff0000' }} />
      <Txt x={75} y={647}>Moyenne des scénarios</Txt>
      <div style={{ position: 'absolute', left: 225, top: 635, width: 30, height: 4, background: '#0000ff' }} />
      <Txt x={265} y={637}>Run de contrôle</Txt>
      <div style={{ position: 'absolute', left: 225, top: 645, width: 30, height: 4, background: '#000000' }} />
      <Txt x={265} y={647}>Run GFS</Txt>
      <Txt x={340} y={652}>30 Perts.</Txt>

      {pertColors.map((c, i) => (
        <React.Fragment key={c + i}>
          <div
            style={{
              position: 'absolute', left: 400 + i * 11 - 1, top: 639, width: 12, textAlign: 'center',
              fontFamily: FONT, fontSize: 8, fontWeight: 'bold', lineHeight: 1, letterSpacing: -0.8,
            }}
          >
            {pertNames[i]}
          </div>
          <div style={{ position: 'absolute', left: 400 + i * 11, top: 650, width: 10, height: 6, background: c }} />
        </React.Fragment>
      ))}

      <div style={{ position: 'absolute', left: 20, top: 667, width: 419, height: 40, border: '1px solid #000', boxSizing: 'border-box' }} />
      <Txt x={30} y={677} size={11.5} bold>Diagramme des ensembles GEFS sur 384h : 40.1N 0.6W</Txt>
      <Txt x={30} y={691}>ThetaE 850hPa (°C) , CAPE (J/kg)</Txt>
      <Txt x={450} y={673} size={11.5}>Ensemble GEFS du 26/08/2026 - 06Z</Txt>
      <Txt x={450} y={692} size={11.5} bold>Copyright 2026 Meteociel.fr</Txt>
    </div>
  )
}
